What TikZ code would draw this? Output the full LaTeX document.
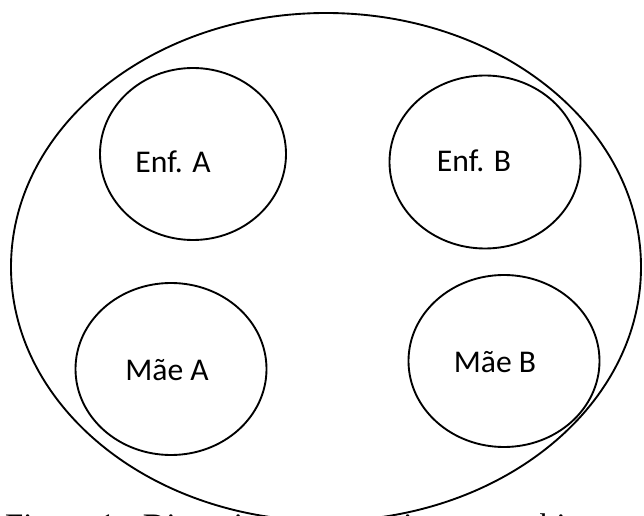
\documentclass[tikz,border=0pt]{standalone}
\usepackage{fontspec}
\setmainfont{Liberation Serif}
\newfontfamily\calib{Carlito}
\usetikzlibrary{shapes.geometric}

\begin{document}
\begin{tikzpicture}[
    x=0.03cm, y=-0.03cm,
    person/.style={
        draw,
        ellipse,
        line width=1.6pt,
        fill=white,
        inner sep=0pt
    },
    label text/.style={
        font=\calib\fontsize{27}{30}\selectfont
    }
]

\useasboundingbox (0,0) rectangle (644,516);

% caption, mostly hidden
\node[anchor=base west, inner sep=0pt, font=\fontsize{28}{32}\selectfont] (caption) at (5,536)
    {Figura 1 - Disposição dos sujeitos no ambiente};

% room
\node[person, minimum width=630*0.03cm, minimum height=508*0.03cm] (room) at (326,267) {};

% people
\node[person, minimum width=186*0.03cm, minimum height=172*0.03cm] (enfA) at (193,154) {};
\node[person, minimum width=191*0.03cm, minimum height=173*0.03cm] (enfB) at (485,162) {};
\node[person, minimum width=191*0.03cm, minimum height=172*0.03cm] (maeA) at (171,369) {};
\node[person, minimum width=191*0.03cm, minimum height=172*0.03cm] (maeB) at (504,361) {};

\node[label text] (enfAtext) at (173,162) {Enf. A};
\node[label text] (enfBtext) at (474,161) {Enf. B};
\node[label text] (maeAtext) at (167,370) {Mãe A};
\node[label text] (maeBtext) at (495,362) {Mãe B};

\end{tikzpicture}
\end{document}
